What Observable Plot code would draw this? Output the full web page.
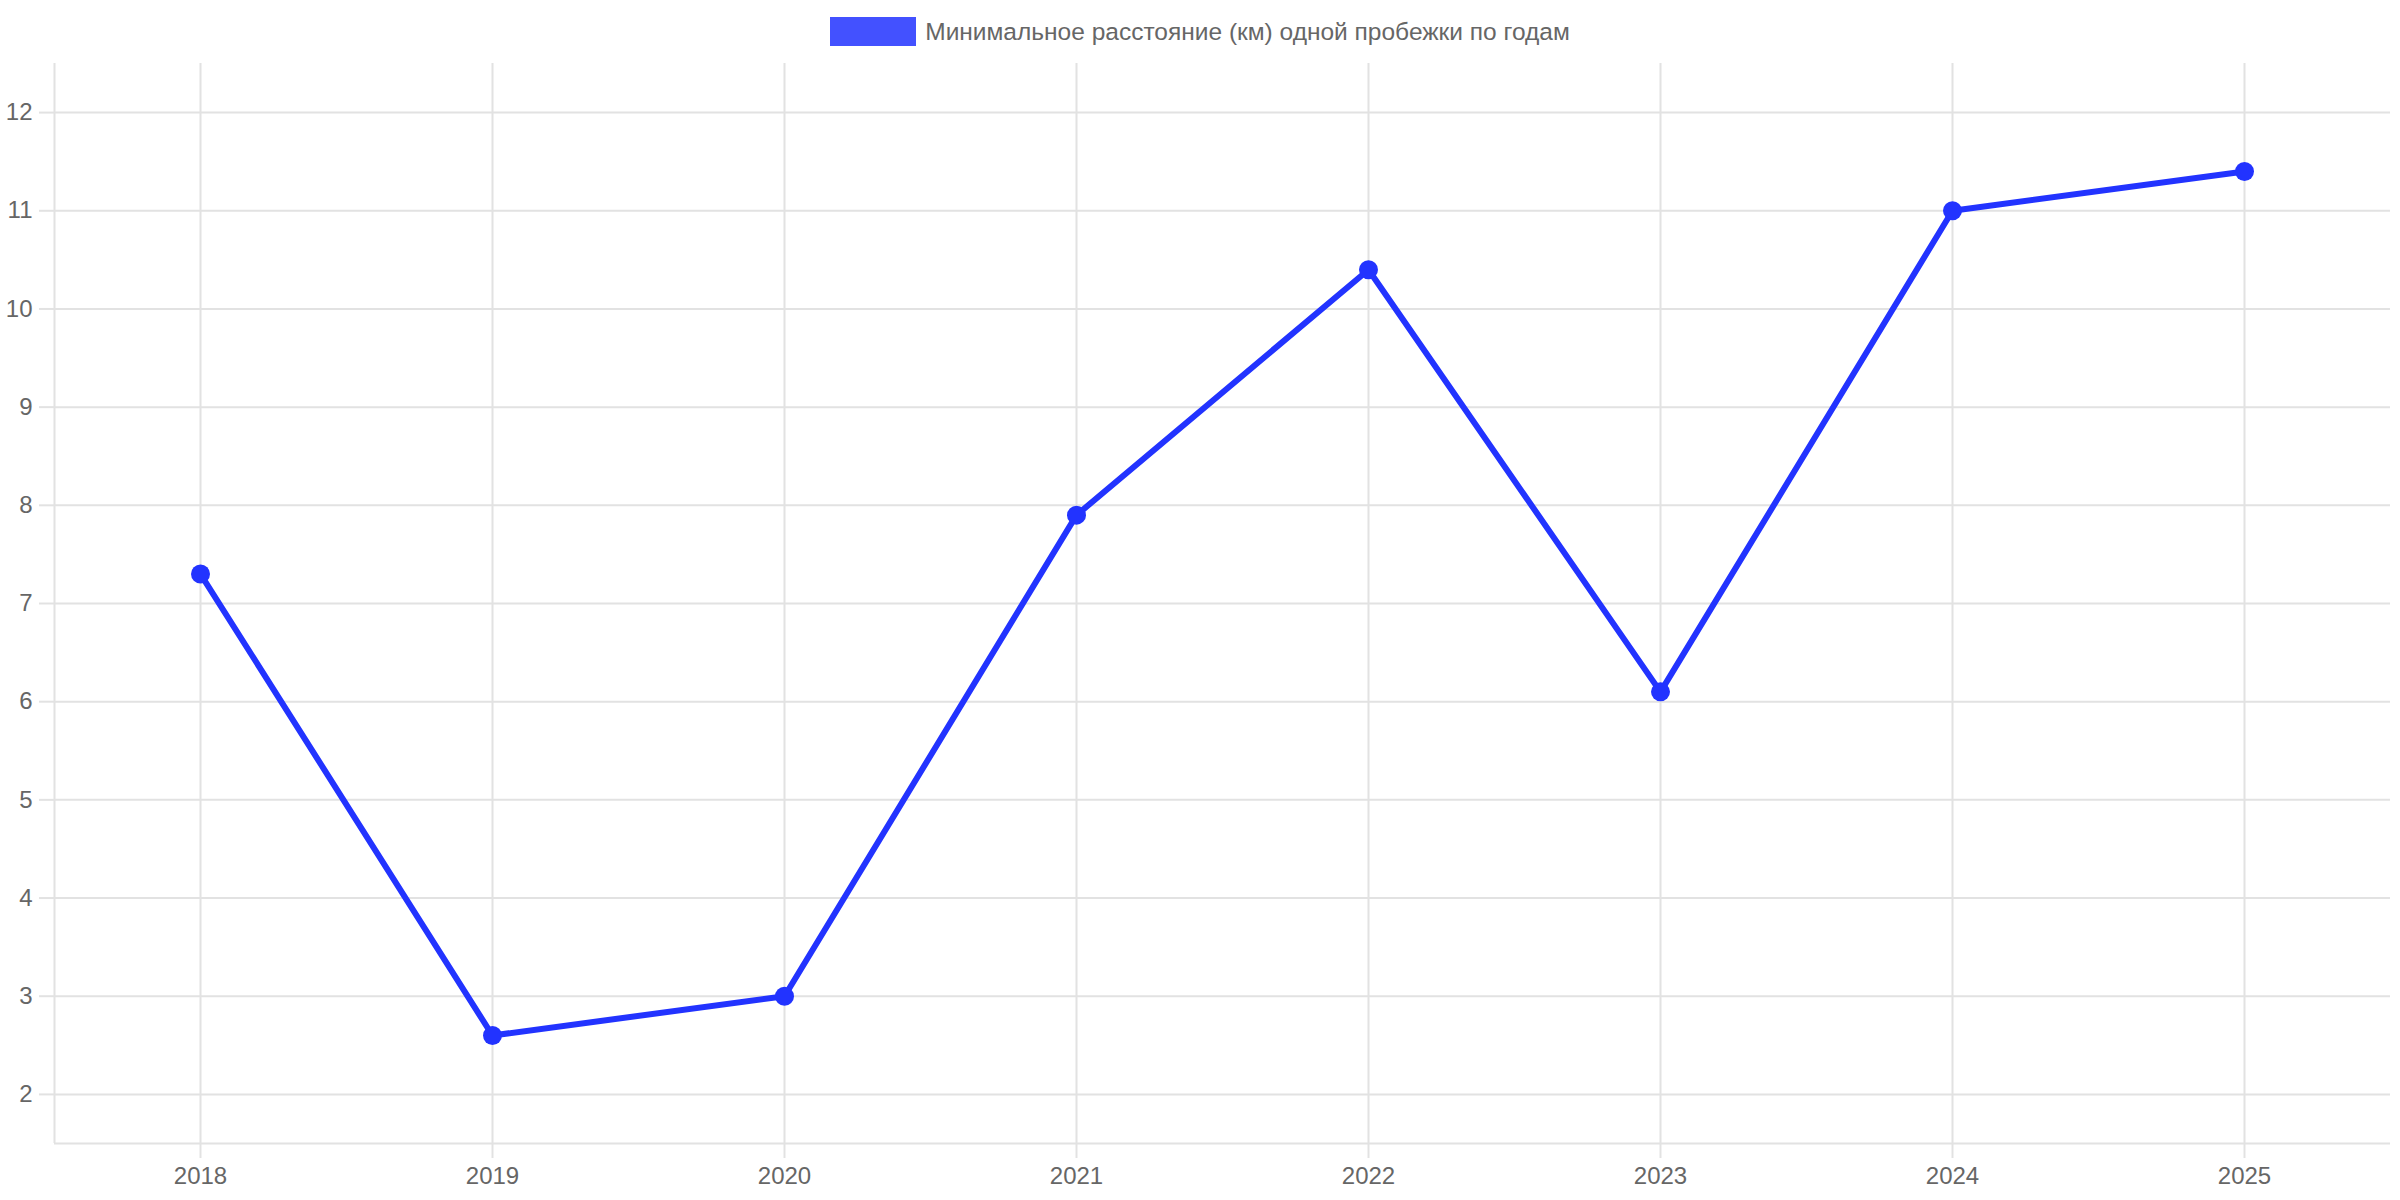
<!DOCTYPE html>
<html>
<head>
<meta charset="utf-8">
<script src="https://cdn.jsdelivr.net/npm/d3@7"></script>
<script src="https://cdn.jsdelivr.net/npm/@observablehq/plot@0.6"></script>
<style>
  html, body { margin: 0; padding: 0; background: #fff; }
  body { width: 2400px; height: 1200px; overflow: hidden; font-family: "Liberation Sans", Arial, sans-serif; }
  #legend { height: 63px; display: flex; justify-content: center; align-items: flex-start; }
  #legend .item { display: flex; align-items: center; margin-top: 17px; margin-left: 0px; }
  #legend .swatch { width: 86px; height: 29px; background: rgba(34,51,255,0.85); margin-right: 9px; }
  #legend .label { font-size: 24.5px; color: #666; }
  svg { display: block; }
</style>
</head>
<body>
<div id="legend"><div class="item"><div class="swatch"></div><div class="label" id="legendLabel"></div></div></div>
<div id="chart"></div>
<script>
const seriesName = "Минимальное расстояние (км) одной пробежки по годам";
const years = [2018, 2019, 2020, 2021, 2022, 2023, 2024, 2025];
const values = [7.3, 2.6, 3.0, 7.9, 10.4, 6.1, 11.0, 11.4];
const yTicks = [2, 3, 4, 5, 6, 7, 8, 9, 10, 11, 12];

document.getElementById("legendLabel").textContent = seriesName;

const data = years.map((y, i) => ({year: y, value: values[i]}));
const lineColor = "#2233ff";
const gridColor = "#e2e2e2";

const chart = Plot.plot({
  width: 2400,
  height: 1137,
  marginTop: 0,
  marginBottom: 57,
  marginLeft: 54,
  marginRight: 10,
  style: {fontFamily: "Liberation Sans, Arial, sans-serif", fontSize: "24px", color: "#666", background: "#fff"},
  x: {type: "linear", domain: [years[0] - 0.5, years[years.length - 1] + 0.5]},
  y: {domain: [1.5, 12.5]},
  marks: [
    Plot.gridX(years, {stroke: gridColor, strokeOpacity: 1, strokeWidth: 2}),
    Plot.gridY(yTicks, {stroke: gridColor, strokeOpacity: 1, strokeWidth: 2}),
    Plot.axisX(years, {tickSize: 15, tickPadding: 8, tickFormat: d3.format("d"), stroke: gridColor, strokeWidth: 2, fill: "#666", fontSize: 24, label: null}),
    Plot.axisY(yTicks, {tickSize: 15, tickPadding: 7, tickFormat: d3.format("d"), stroke: gridColor, strokeWidth: 2, fill: "#666", fontSize: 24, label: null}),
    Plot.ruleX([years[0] - 0.5], {stroke: gridColor, strokeWidth: 2}),
    Plot.ruleY([1.5], {stroke: gridColor, strokeWidth: 2}),
    Plot.line(data, {x: "year", y: "value", stroke: lineColor, strokeWidth: 6}),
    Plot.dot(data, {x: "year", y: "value", r: 9.5, fill: lineColor, stroke: null})
  ]
});
document.getElementById("chart").appendChild(chart);
</script>
</body>
</html>
